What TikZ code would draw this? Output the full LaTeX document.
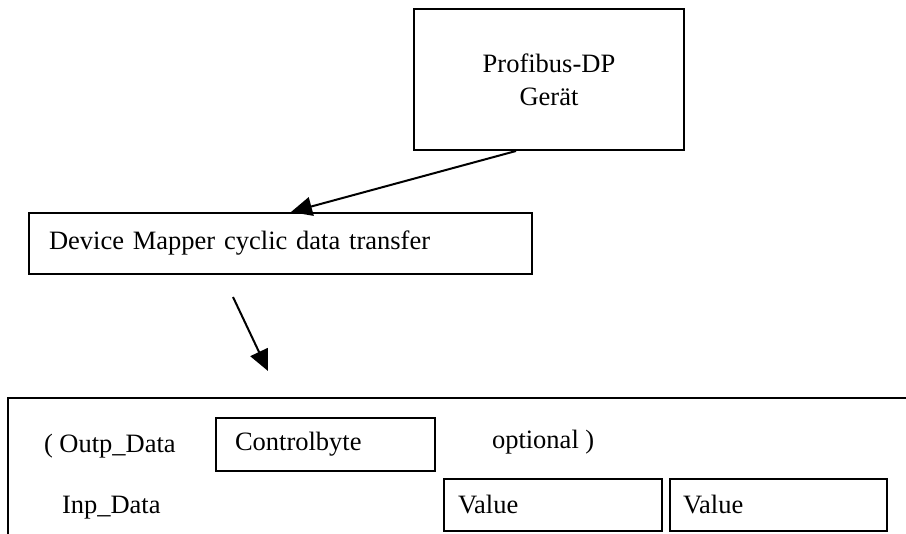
\documentclass[tikz,border=0pt]{standalone}
\usepackage{fontspec}
\setmainfont{Liberation Serif}
\usetikzlibrary{arrows.meta}

\begin{document}
\begin{tikzpicture}[
        x=1pt, y=-1pt,
        >={Triangle[length=21pt,width=19pt]},
        line width=2pt,
        every node/.style={font=\fontsize{26.5}{33}\selectfont, inner sep=0pt},
        box/.style={draw, line width=2pt, anchor=north west, align=left}
    ]
    % Page
    \useasboundingbox (0,0) rectangle (906,534);
    \clip (0,0) rectangle (906,534);

    % Profibus device
    \node[box, align=center, minimum width=270pt, minimum height=141pt]
      (geraet) at (413,8) {Profibus-DP\\Ger\"at};

    % Device mapper
    \node[box, text width=463pt, inner xsep=20pt, minimum height=61pt]
      (mapper) at (28,212) {Device Mapper cyclic data transfer};

    % Data frame, cut by the page edge
    \node[box, minimum width=960pt, minimum height=200pt] (frame) at (7,397) {};

    % Output data row
    \node[anchor=base west] (outp) at (43,453) {( Outp\_Data};
    \node[box, text width=181pt, inner xsep=19pt, minimum height=53pt]
      (ctrl) at (215,417) {Controlbyte};
    \node[anchor=base west] (opt) at (491,449) {optional )};

    % Input data row
    \node[anchor=base west] (inp) at (61,514) {Inp\_Data};
    \node[box, text width=190pt, inner xsep=14pt, minimum height=52pt]
      (val1) at (443,478) {Value};
    \node[box, text width=191pt, inner xsep=13pt, minimum height=52pt]
      (val2) at (669,478) {Value};

    % Arrows
    \draw[->] ([xshift=-33pt]geraet.south) -- ([xshift=10.5pt]mapper.north);
    \coordinate (from) at (233,297);
    \coordinate (to) at (268,371);
    \draw[->] (from) -- (to);
\end{tikzpicture}
\end{document}
